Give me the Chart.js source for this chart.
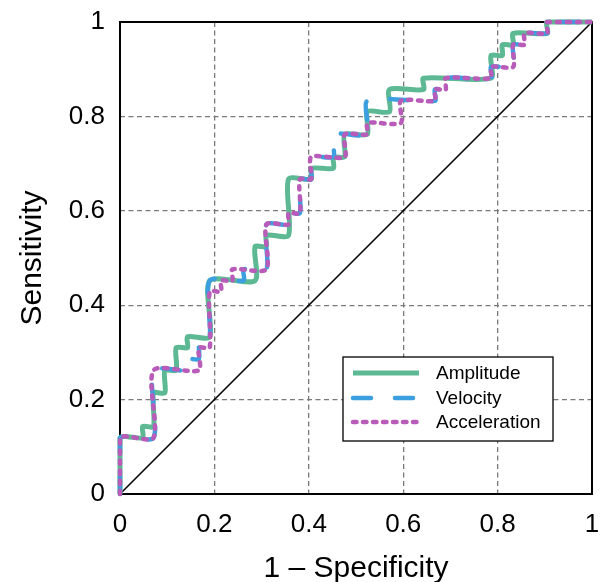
<!DOCTYPE html>
<html>
<head>
<meta charset="utf-8">
<script src="https://cdn.jsdelivr.net/npm/chart.js@4.4.0/dist/chart.umd.min.js"></script>
<style>
  html, body { margin: 0; padding: 0; background: #fff; }
</style>
</head>
<body>
<canvas id="roc" width="604" height="582"></canvas>
<script>
// ROC vertices: 1 - specificity (x) and sensitivity (y) for each feature
const ampFpr = [0, 0, 0.048, 0.048, 0.071, 0.071, 0.095, 0.095, 0.119, 0.119, 0.143, 0.143, 0.190, 0.190, 0.286, 0.286, 0.310, 0.310, 0.357, 0.357, 0.405, 0.405, 0.452, 0.452, 0.476, 0.476, 0.524, 0.524, 0.571, 0.571, 0.643, 0.643, 0.786, 0.786, 0.810, 0.810, 0.833, 0.833, 0.905, 0.905, 1];
const ampTpr = [0, 0.119, 0.119, 0.143, 0.143, 0.214, 0.214, 0.262, 0.262, 0.310, 0.310, 0.333, 0.333, 0.452, 0.452, 0.524, 0.524, 0.548, 0.548, 0.667, 0.667, 0.690, 0.690, 0.714, 0.714, 0.762, 0.762, 0.810, 0.810, 0.857, 0.857, 0.881, 0.881, 0.929, 0.929, 0.952, 0.952, 0.976, 0.976, 1, 1];

const velFpr = [0, 0, 0.071, 0.071, 0.143, 0.143, 0.167, 0.167, 0.190, 0.190, 0.262, 0.262, 0.310, 0.310, 0.357, 0.357, 0.381, 0.381, 0.405, 0.405, 0.452, 0.452, 0.524, 0.524, 0.667, 0.667, 0.690, 0.690, 0.786, 0.786, 0.833, 0.833, 0.857, 0.857, 0.905, 0.905, 1];
const velTpr = [0, 0.119, 0.119, 0.262, 0.262, 0.286, 0.286, 0.333, 0.333, 0.452, 0.452, 0.476, 0.476, 0.571, 0.571, 0.595, 0.595, 0.667, 0.667, 0.714, 0.714, 0.762, 0.762, 0.833, 0.833, 0.857, 0.857, 0.881, 0.881, 0.905, 0.905, 0.952, 0.952, 0.976, 0.976, 1, 1];

const accFpr = [0, 0, 0.071, 0.071, 0.167, 0.167, 0.190, 0.190, 0.214, 0.214, 0.238, 0.238, 0.310, 0.310, 0.357, 0.357, 0.381, 0.381, 0.405, 0.405, 0.476, 0.476, 0.524, 0.524, 0.595, 0.595, 0.667, 0.667, 0.690, 0.690, 0.786, 0.786, 0.833, 0.833, 0.857, 0.857, 0.905, 0.905, 1];
const accTpr = [0, 0.119, 0.119, 0.262, 0.262, 0.310, 0.310, 0.429, 0.429, 0.452, 0.452, 0.476, 0.476, 0.571, 0.571, 0.595, 0.595, 0.667, 0.667, 0.714, 0.714, 0.762, 0.762, 0.786, 0.786, 0.833, 0.833, 0.857, 0.857, 0.881, 0.881, 0.905, 0.905, 0.952, 0.952, 0.976, 0.976, 1, 1];

// chance line
const chanceX = [0, 1];
const chanceY = [0, 1];

const tickValues = [0, 0.2, 0.4, 0.6, 0.8, 1];
const seriesLabels = ['Amplitude', 'Velocity', 'Acceleration'];

const FONT = "'Liberation Sans', Arial, sans-serif";

function toPoints(xs, ys) {
  return xs.map((x, i) => ({ x: x, y: ys[i] }));
}

function fmtTick(v) {
  return v === 0 ? '0' : v === 1 ? '1' : String(v);
}

// black box around the plot area
const framePlugin = {
  id: 'frame',
  beforeDatasetsDraw(chart) {
    const { ctx, chartArea: a } = chart;
    ctx.save();
    ctx.strokeStyle = '#000';
    ctx.lineWidth = 2;
    ctx.strokeRect(a.left, a.top, a.right - a.left, a.bottom - a.top);
    ctx.restore();
  }
};

// legend box inside the plot, lower right
const legendPlugin = {
  id: 'boxLegend',
  afterDraw(chart) {
    const ctx = chart.ctx;
    const bx = 343, by = 357, bw = 210, bh = 84;
    ctx.save();
    ctx.fillStyle = '#fff';
    ctx.fillRect(bx, by, bw, bh);
    ctx.strokeStyle = '#000';
    ctx.lineWidth = 1.3;
    ctx.strokeRect(bx, by, bw, bh);
    const rows = [373, 398, 422];
    seriesLabels.forEach((label, i) => {
      const ds = chart.data.datasets[i];
      ctx.beginPath();
      ctx.strokeStyle = ds.borderColor;
      ctx.lineWidth = ds.borderWidth;
      ctx.lineCap = ds.borderCapStyle || 'butt';
      ctx.setLineDash(ds.borderDash || []);
      ctx.moveTo(353, rows[i]);
      ctx.lineTo(419, rows[i]);
      ctx.stroke();
      ctx.setLineDash([]);
      ctx.fillStyle = '#000';
      ctx.font = '19px ' + FONT;
      ctx.textBaseline = 'middle';
      ctx.textAlign = 'left';
      ctx.fillText(label, 436, rows[i] + 1);
    });
    ctx.restore();
  }
};

const gridColor = c => (c.tick && (c.tick.value === 0 || c.tick.value === 1)) ? 'rgba(0,0,0,0)' : '#7a7a7a';

new Chart(document.getElementById('roc'), {
  type: 'scatter',
  data: {
    datasets: [
      {
        label: seriesLabels[0],
        data: toPoints(ampFpr, ampTpr),
        borderColor: '#5cb993',
        borderWidth: 5,
        order: 3
      },
      {
        label: seriesLabels[1],
        data: toPoints(velFpr, velTpr),
        borderColor: '#3c9fdf',
        borderWidth: 4.5,
        borderDash: [18, 24],
        borderCapStyle: 'round',
        order: 2
      },
      {
        label: seriesLabels[2],
        data: toPoints(accFpr, accTpr),
        borderColor: '#b85bb9',
        borderWidth: 4.5,
        borderDash: [3.5, 6.5],
        borderCapStyle: 'round',
        order: 1
      },
      {
        label: 'chance',
        data: toPoints(chanceX, chanceY),
        borderColor: '#000',
        borderWidth: 1.6,
        tension: 0,
        order: 4
      }
    ].map(ds => Object.assign({
      showLine: true,
      pointRadius: 0,
      pointHoverRadius: 0,
      tension: 0.25,
      clip: 8
    }, ds))
  },
  options: {
    responsive: false,
    devicePixelRatio: 1,
    animation: false,
    layout: { padding: { top: 22, right: 12, left: 0, bottom: 0 } },
    plugins: {
      legend: { display: false },
      tooltip: { enabled: false }
    },
    scales: {
      x: {
        type: 'linear',
        min: 0,
        max: 1,
        afterBuildTicks: s => { s.ticks = tickValues.map(v => ({ value: v })); },
        afterFit: s => { s.height = 88; s.paddingLeft = 0; s.paddingRight = 0; },
        ticks: {
          callback: fmtTick,
          color: '#000',
          font: { family: FONT, size: 26 },
          padding: 15,
          maxRotation: 0
        },
        grid: { color: gridColor, lineWidth: 1.3, drawTicks: false },
        border: { display: false, dash: [5, 3.5] },
        title: {
          display: true,
          text: '1 – Specificity',
          color: '#000',
          font: { family: FONT, size: 30 },
          padding: { top: 0, bottom: -5 }
        }
      },
      y: {
        type: 'linear',
        min: 0,
        max: 1,
        afterBuildTicks: s => { s.ticks = tickValues.map(v => ({ value: v })); },
        afterFit: s => { s.width = 120; s.paddingTop = 0; s.paddingBottom = 0; },
        ticks: {
          callback: fmtTick,
          color: '#000',
          font: { family: FONT, size: 26 },
          padding: 15
        },
        grid: { color: gridColor, lineWidth: 1.3, drawTicks: false },
        border: { display: false, dash: [5, 3.5] },
        title: {
          display: true,
          text: 'Sensitivity',
          color: '#000',
          font: { family: FONT, size: 30 },
          padding: { top: 15, bottom: 0 }
        }
      }
    }
  },
  plugins: [framePlugin, legendPlugin]
});
</script>
</body>
</html>
